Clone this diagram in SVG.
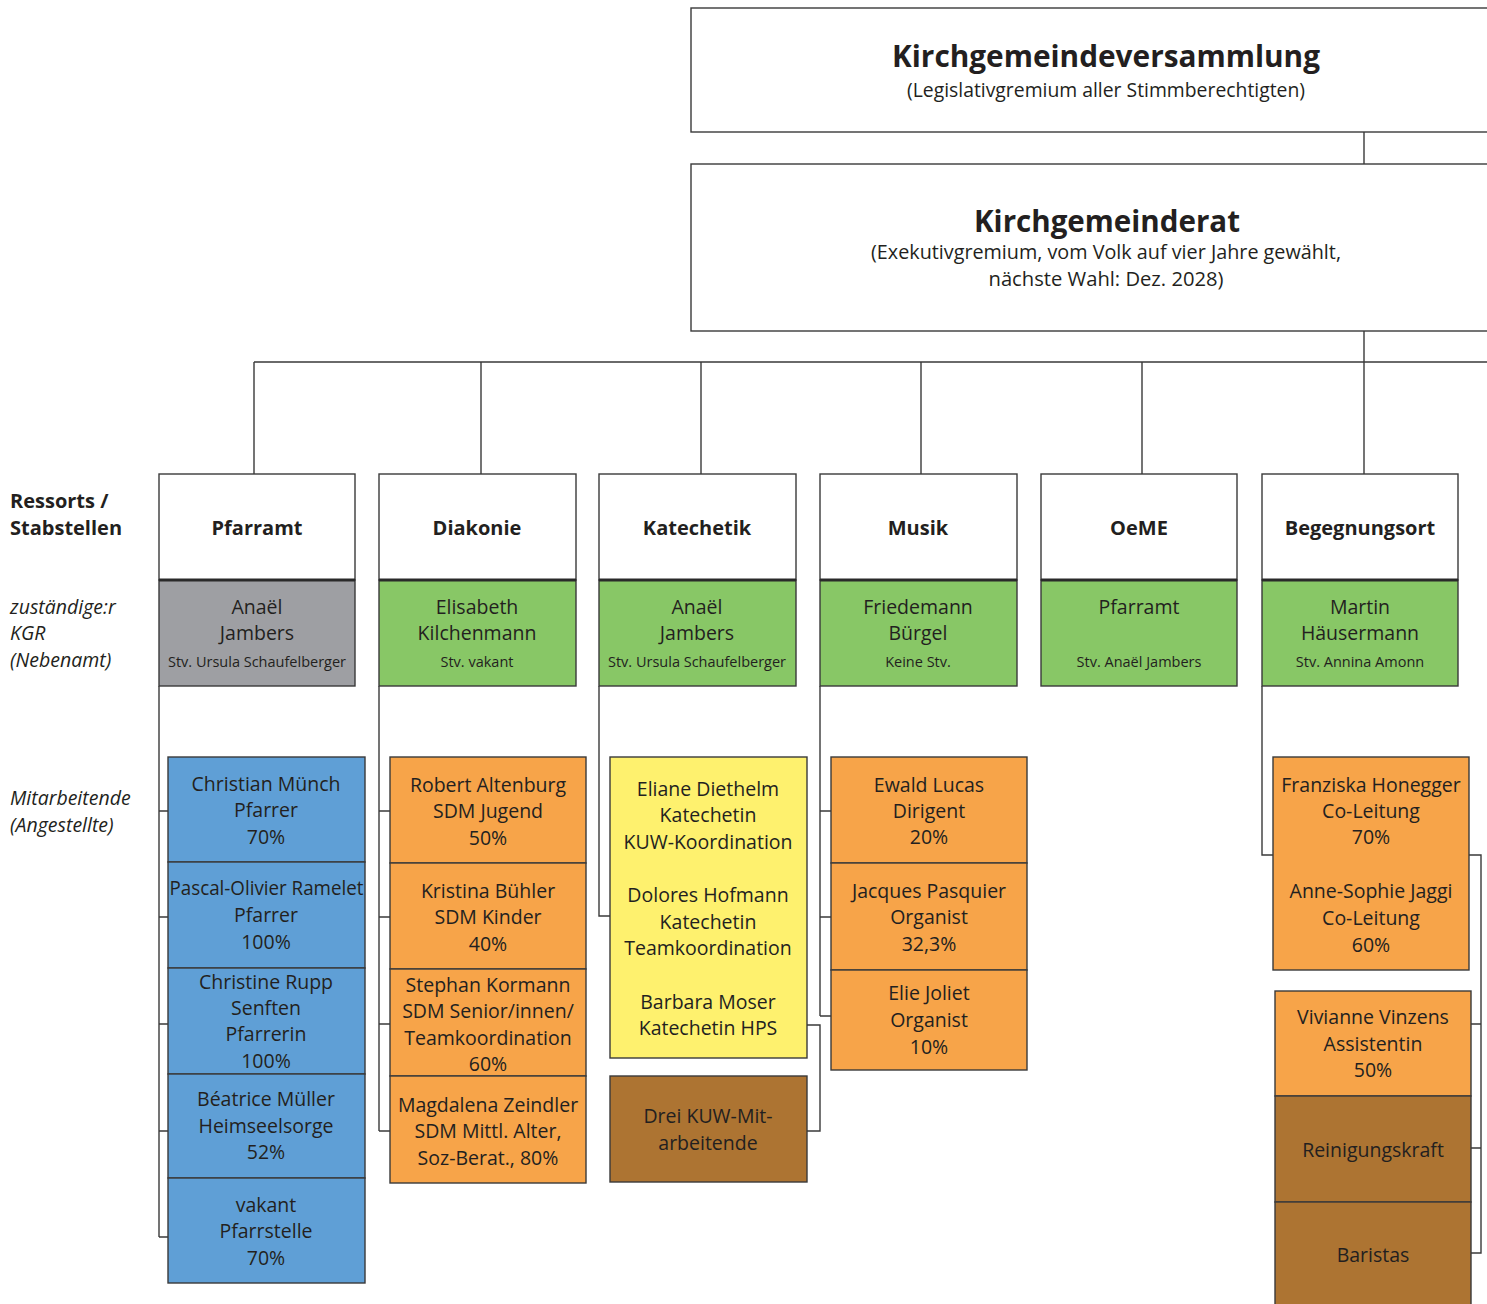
<svg xmlns="http://www.w3.org/2000/svg" width="1487" height="1304" viewBox="0 0 1487 1304">
<style>
text{font-family:"Open Sans","Noto Sans","Liberation Sans",sans-serif;fill:#231f20;text-anchor:middle}
.b{stroke:#3a3a3a;stroke-width:1.4}
.w{fill:#fff}
.gr{fill:#9e9fa3}
.g{fill:#88c766}
.bl{fill:#5f9fd6}
.o{fill:#f7a449}
.y{fill:#fef16e}
.br{fill:#ad7432}
.t{font-size:19.5px}
.h{font-size:20px;font-weight:700}
.s{font-size:14.5px}
.l{text-anchor:start}
.i{font-style:italic;font-size:19.5px;text-anchor:start}
.c{fill:none;stroke:#3a3a3a;stroke-width:1.4}
.sep{stroke:#2a2a2a;stroke-width:3}
</style>

<g id="connectors">
<path class="c" d="M1364 132V164M1364 331V362M254 362H1490M254 362V474M481 362V474M701 362V474M921 362V474M1142 362V474M1364 362V474"/>
<path class="c" d="M159 686V1237M159 811H168M159 917H168M159 1024H168M159 1131H168M159 1237H168"/>
<path class="c" d="M379 686V1131M379 811H390M379 917H390M379 1024H390M379 1131H390"/>
<path class="c" d="M599 686V916H610M807 1025H820V1131H807"/>
<path class="c" d="M820 686V1016M820 811H831M820 917H831M820 1016H831"/>
<path class="c" d="M1262 686V855H1273M1469 855H1481V1253H1471M1471 1024H1481M1471 1148H1481"/>
</g>

<g id="kgv">
<rect class="b w" x="691" y="8" width="820" height="124"/>
<text x="1106" y="67" font-size="31" font-weight="700" textLength="428" lengthAdjust="spacingAndGlyphs">Kirchgemeindeversammlung</text>
<text x="1106" y="97" font-size="19.5" textLength="398" lengthAdjust="spacingAndGlyphs">(Legislativgremium aller Stimmberechtigten)</text>
</g>

<g id="kgr">
<rect class="b w" x="691" y="164" width="820" height="167"/>
<text x="1107" y="232" font-size="31" font-weight="700" textLength="266" lengthAdjust="spacingAndGlyphs">Kirchgemeinderat</text>
<text x="1106" y="259" font-size="19.5" textLength="470" lengthAdjust="spacingAndGlyphs">(Exekutivgremium, vom Volk auf vier Jahre gewählt,</text>
<text x="1106" y="286" font-size="19.5" textLength="235" lengthAdjust="spacingAndGlyphs">nächste Wahl: Dez. 2028)</text>
</g>

<g id="legend">
<text class="h l" x="10" y="508">Ressorts /</text>
<text class="h l" x="10" y="535">Stabstellen</text>
<text class="i" x="10" y="614">zuständige:r</text>
<text class="i" x="10" y="640">KGR</text>
<text class="i" x="10" y="667">(Nebenamt)</text>
<text class="i" x="10" y="805">Mitarbeitende</text>
<text class="i" x="10" y="832">(Angestellte)</text>
</g>

<g id="pfarramt">
<rect class="b w" x="159" y="474" width="196" height="106"/>
<rect class="b gr" x="159" y="580" width="196" height="106"/>
<line class="sep" x1="159" y1="580" x2="355" y2="580"/>
<text class="h" x="257" y="535">Pfarramt</text>
<text class="t" x="257" y="614">Anaël</text>
<text class="t" x="257" y="640">Jambers</text>
<text class="s" x="257" y="667">Stv. Ursula Schaufelberger</text>
</g>
<g id="pf1"><rect class="b bl" x="168" y="757" width="197" height="105"/>
<text class="t" x="266" y="791">Christian Münch</text><text class="t" x="266" y="817">Pfarrer</text><text class="t" x="266" y="844">70%</text></g>
<g id="pf2"><rect class="b bl" x="168" y="862" width="197" height="106"/>
<text class="t" x="266.5" y="895" textLength="194" lengthAdjust="spacingAndGlyphs">Pascal-Olivier Ramelet</text><text class="t" x="266" y="922">Pfarrer</text><text class="t" x="266" y="949">100%</text></g>
<g id="pf3"><rect class="b bl" x="168" y="968" width="197" height="106"/>
<text class="t" x="266" y="989">Christine Rupp</text><text class="t" x="266" y="1015">Senften</text><text class="t" x="266" y="1041">Pfarrerin</text><text class="t" x="266" y="1068">100%</text></g>
<g id="pf4"><rect class="b bl" x="168" y="1074" width="197" height="104"/>
<text class="t" x="266" y="1106">Béatrice Müller</text><text class="t" x="266" y="1133">Heimseelsorge</text><text class="t" x="266" y="1159">52%</text></g>
<g id="pf5"><rect class="b bl" x="168" y="1178" width="197" height="105"/>
<text class="t" x="266" y="1212">vakant</text><text class="t" x="266" y="1238">Pfarrstelle</text><text class="t" x="266" y="1265">70%</text></g>

<g id="diakonie">
<rect class="b w" x="379" y="474" width="197" height="106"/>
<rect class="b g" x="379" y="580" width="197" height="106"/>
<line class="sep" x1="379" y1="580" x2="576" y2="580"/>
<text class="h" x="477" y="535">Diakonie</text>
<text class="t" x="477" y="614">Elisabeth</text>
<text class="t" x="477" y="640">Kilchenmann</text>
<text class="s" x="477" y="667">Stv. vakant</text>
</g>
<g id="dk1"><rect class="b o" x="390" y="757" width="196" height="106"/>
<text class="t" x="488" y="792">Robert Altenburg</text><text class="t" x="488" y="818">SDM Jugend</text><text class="t" x="488" y="845">50%</text></g>
<g id="dk2"><rect class="b o" x="390" y="863" width="196" height="106"/>
<text class="t" x="488" y="898">Kristina Bühler</text><text class="t" x="488" y="924">SDM Kinder</text><text class="t" x="488" y="951">40%</text></g>
<g id="dk3"><rect class="b o" x="390" y="969" width="196" height="107"/>
<text class="t" x="488" y="992">Stephan Kormann</text><text class="t" x="488" y="1018">SDM Senior/innen/</text><text class="t" x="488" y="1045">Teamkoordination</text><text class="t" x="488" y="1071">60%</text></g>
<g id="dk4"><rect class="b o" x="390" y="1076" width="196" height="107"/>
<text class="t" x="488" y="1112">Magdalena Zeindler</text><text class="t" x="488" y="1138">SDM Mittl. Alter,</text><text class="t" x="488" y="1165">Soz-Berat., 80%</text></g>

<g id="katechetik">
<rect class="b w" x="599" y="474" width="197" height="106"/>
<rect class="b g" x="599" y="580" width="197" height="106"/>
<line class="sep" x1="599" y1="580" x2="796" y2="580"/>
<text class="h" x="697" y="535">Katechetik</text>
<text class="t" x="697" y="614">Anaël</text>
<text class="t" x="697" y="640">Jambers</text>
<text class="s" x="697" y="667">Stv. Ursula Schaufelberger</text>
</g>
<g id="kt1"><rect class="b y" x="610" y="757" width="197" height="301"/>
<text class="t" x="708" y="796">Eliane Diethelm</text><text class="t" x="708" y="822">Katechetin</text><text class="t" x="708" y="849">KUW-Koordination</text>
<text class="t" x="708" y="902">Dolores Hofmann</text><text class="t" x="708" y="929">Katechetin</text><text class="t" x="708" y="955">Teamkoordination</text>
<text class="t" x="708" y="1009">Barbara Moser</text><text class="t" x="708" y="1035">Katechetin HPS</text></g>
<g id="kt2"><rect class="b br" x="610" y="1076" width="197" height="106"/>
<text class="t" x="708" y="1123">Drei KUW-Mit-</text><text class="t" x="708" y="1150">arbeitende</text></g>

<g id="musik">
<rect class="b w" x="820" y="474" width="197" height="106"/>
<rect class="b g" x="820" y="580" width="197" height="106"/>
<line class="sep" x1="820" y1="580" x2="1017" y2="580"/>
<text class="h" x="918" y="535">Musik</text>
<text class="t" x="918" y="614">Friedemann</text>
<text class="t" x="918" y="640">Bürgel</text>
<text class="s" x="918" y="667">Keine Stv.</text>
</g>
<g id="mu1"><rect class="b o" x="831" y="757" width="196" height="106"/>
<text class="t" x="929" y="792">Ewald Lucas</text><text class="t" x="929" y="818">Dirigent</text><text class="t" x="929" y="844">20%</text></g>
<g id="mu2"><rect class="b o" x="831" y="863" width="196" height="107"/>
<text class="t" x="929" y="898">Jacques Pasquier</text><text class="t" x="929" y="924">Organist</text><text class="t" x="929" y="951">32,3%</text></g>
<g id="mu3"><rect class="b o" x="831" y="970" width="196" height="100"/>
<text class="t" x="929" y="1000">Elie Joliet</text><text class="t" x="929" y="1027">Organist</text><text class="t" x="929" y="1054">10%</text></g>

<g id="oeme">
<rect class="b w" x="1041" y="474" width="196" height="106"/>
<rect class="b g" x="1041" y="580" width="196" height="106"/>
<line class="sep" x1="1041" y1="580" x2="1237" y2="580"/>
<text class="h" x="1139" y="535">OeME</text>
<text class="t" x="1139" y="614">Pfarramt</text>
<text class="s" x="1139" y="667">Stv. Anaël Jambers</text>
</g>

<g id="begegnungsort">
<rect class="b w" x="1262" y="474" width="196" height="106"/>
<rect class="b g" x="1262" y="580" width="196" height="106"/>
<line class="sep" x1="1262" y1="580" x2="1458" y2="580"/>
<text class="h" x="1360" y="535">Begegnungsort</text>
<text class="t" x="1360" y="614">Martin</text>
<text class="t" x="1360" y="640">Häusermann</text>
<text class="s" x="1360" y="667">Stv. Annina Amonn</text>
</g>
<g id="bg1"><rect class="b o" x="1273" y="757" width="196" height="213"/>
<text class="t" x="1371" y="792">Franziska Honegger</text><text class="t" x="1371" y="818">Co-Leitung</text><text class="t" x="1371" y="844">70%</text>
<text class="t" x="1371" y="898">Anne-Sophie Jaggi</text><text class="t" x="1371" y="925">Co-Leitung</text><text class="t" x="1371" y="952">60%</text></g>
<g id="bg2"><rect class="b o" x="1275" y="991" width="196" height="105"/>
<text class="t" x="1373" y="1024">Vivianne Vinzens</text><text class="t" x="1373" y="1051">Assistentin</text><text class="t" x="1373" y="1077">50%</text></g>
<g id="bg3"><rect class="b br" x="1275" y="1096" width="196" height="106"/>
<text class="t" x="1373" y="1157">Reinigungskraft</text></g>
<g id="bg4"><rect class="b br" x="1275" y="1202" width="196" height="110"/>
<text class="t" x="1373" y="1262">Baristas</text></g>
</svg>
